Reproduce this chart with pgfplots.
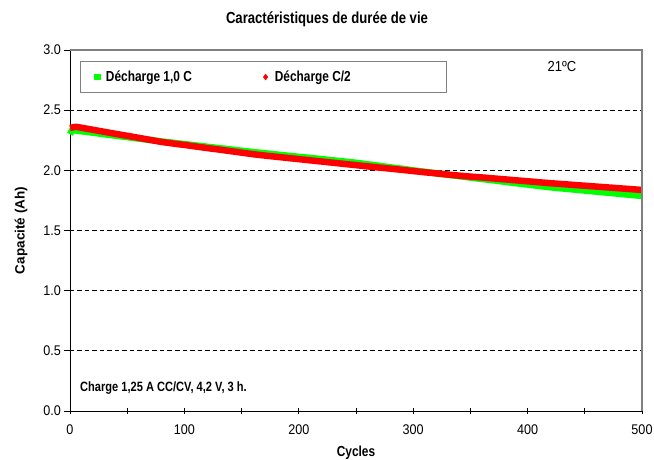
\documentclass[border=0pt]{standalone}
\usepackage{fontspec}
\setmainfont{Liberation Sans}[FakeStretch=0.82]
\newfontfamily\tickfont{Liberation Sans}[FakeStretch=0.9]
\newfontfamily\plainfont{Liberation Sans}
\usepackage{pgfplots}
\pgfplotsset{compat=1.18}
\definecolor{xlgreen}{RGB}{0,255,0}
\definecolor{xlred}{RGB}{255,0,0}
\definecolor{framegray}{RGB}{128,128,128}
\begin{document}
\begin{tikzpicture}
\begin{axis}[
  scale only axis, width=572pt, height=361pt,
  xmin=0, xmax=500, ymin=0, ymax=3,
  clip=false,
  axis x line*=bottom, axis y line*=left,
  axis line style={-, black, line width=0.8pt},
  xtick={0,100,200,300,400,500},
  minor xtick={50,150,250,350,450},
  ytick={0,0.5,1,1.5,2,2.5,3},
  tick align=outside,
  major tick length=5.5pt, minor tick length=5.5pt,
  xtick style={black, line width=0.8pt, yshift=2.75pt},
  ytick style={black, line width=0.8pt},
  ymajorgrids,
  major grid style={black, line width=0.8pt, dash pattern=on 4.5pt off 3pt},
  tick label style={font=\tickfont\fontsize{14}{16}\selectfont},
  xticklabel style={yshift=-5pt},
  /pgf/number format/assume math mode=true,
  yticklabel style={/pgf/number format/.cd, fixed, fixed zerofill, precision=1},
  title={Caractéristiques de durée de vie},
  title style={font=\bfseries\fontsize{16}{19}\selectfont, at={(axis description cs:0.4493,1.058)}, anchor=base},
  xlabel={Cycles},
  xlabel style={font=\bfseries\fontsize{14.5}{17}\selectfont, at={(axis description cs:0.5,-0.1274)}, anchor=base},
  ylabel={Capacité (Ah)},
  ylabel style={font=\plainfont\bfseries\fontsize{13.5}{16}\selectfont, at={(axis description cs:-0.0857,0.5)}, anchor=center},
  legend columns=2,
  legend cell align=left,
  legend style={at={(0.037,0.925)}, anchor=west, draw=none, fill=none, inner sep=0pt,
    font=\bfseries\fontsize{14.5}{17}\selectfont,
    /tikz/every even column/.append style={column sep=65.5pt}},
]
\addplot[xlgreen, line width=6.5pt, line join=round,
  legend image code/.code={\draw[line width=0.4pt, mark=square*, mark size=2.6pt, mark options={fill=xlgreen, draw=xlgreen}] plot coordinates {(0pt,0pt)}; \path (-2.6pt,0pt) (3.5pt,0pt);}]
coordinates {
(0,2.300) (2,2.335) (10,2.325) (20,2.313) (30,2.300) (40,2.288) (50,2.276) (60,2.264) (70,2.252) (80,2.240)
(90,2.229) (100,2.218) (110,2.207) (120,2.196) (130,2.185) (140,2.174) (150,2.163) (160,2.152)
(170,2.142) (180,2.132) (190,2.122) (200,2.112) (210,2.103) (220,2.093) (230,2.083) (240,2.073) (250,2.063)
(260,2.050) (270,2.038) (280,2.025) (290,2.013) (300,2.000) (310,1.988) (320,1.975)
(330,1.963) (340,1.952) (350,1.940) (360,1.928) (370,1.917) (380,1.905) (390,1.893) (400,1.882) (410,1.870)
(420,1.859) (430,1.850) (440,1.841) (450,1.832) (460,1.823) (470,1.814) (480,1.805) (490,1.796) (500,1.787)
};
\addlegendentry{Décharge 1,0 C}
\addplot[xlred, line width=6.5pt, line join=round,
  legend image code/.code={\draw[line width=0.4pt, mark=diamond*, mark size=3pt, mark options={fill=xlred, draw=xlred}] plot coordinates {(0pt,0pt)}; \path (-3pt,0pt) (4pt,0pt);}]
coordinates {
(0,2.352) (5,2.362) (10,2.354) (20,2.337) (30,2.320) (40,2.303) (50,2.287) (60,2.270) (70,2.253) (80,2.236)
(90,2.223) (100,2.211) (110,2.198) (120,2.185) (130,2.173) (140,2.160) (150,2.147) (160,2.134)
(170,2.123) (180,2.113) (190,2.103) (200,2.093) (210,2.083) (220,2.073) (230,2.063) (240,2.053) (250,2.043)
(260,2.033) (270,2.023) (280,2.014) (290,2.004) (300,1.994) (310,1.984) (320,1.975) (330,1.965)
(340,1.956) (350,1.948) (360,1.941) (370,1.933) (380,1.925) (390,1.917) (400,1.909) (410,1.901)
(420,1.893) (430,1.886) (440,1.879) (450,1.872) (460,1.865) (470,1.858) (480,1.851) (490,1.844) (500,1.837)
};
\addlegendentry{Décharge C/2}
\draw[framegray, line width=1.2pt] (rel axis cs:0,1) -- (rel axis cs:1,1) -- (rel axis cs:1,0);
\draw[framegray, line width=1pt] (rel axis cs:0.0175,0.9695) rectangle (rel axis cs:0.659,0.881);
\node[font=\tickfont\fontsize{14.5}{17}\selectfont] at (rel axis cs:0.860,0.953) {21ºC};
\node[anchor=west, font=\bfseries\fontsize{13.5}{16}\selectfont, inner sep=0pt] at (rel axis cs:0.0175,0.0637) {Charge 1,25 A CC/CV, 4,2 V, 3 h.};
\end{axis}
\pgfresetboundingbox
\path (-70pt,-49pt) rectangle (584pt,411pt);
\end{tikzpicture}
\end{document}
